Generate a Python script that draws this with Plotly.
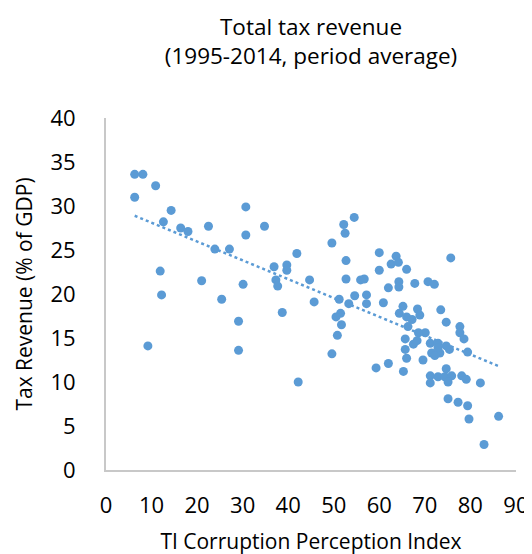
import numpy as np
import plotly.graph_objects as go

# TI Corruption Perception Index (x) and Tax Revenue % of GDP (y)
cpi = [6.3, 8.1, 10.9, 6.3, 14.3, 30.7, 12.6, 16.4, 18.0, 22.5,
       34.8, 30.7, 23.9, 27.1, 41.9, 11.9, 21.0, 30.1, 36.9, 39.7,
       39.7, 37.3, 37.7, 12.2, 25.4, 29.1, 38.7, 9.2, 29.1, 42.2,
       54.5, 52.2, 52.5, 49.6, 60.0, 63.7, 62.6, 64.2, 60.0, 66.0,
       75.7, 52.7, 44.7, 45.7, 52.7, 55.9, 56.7, 64.3, 64.3, 62.0,
       67.8, 70.7, 72.1, 51.2, 54.6, 57.2, 57.2, 53.3, 60.9, 65.2,
       64.4, 68.4, 68.9, 66.0, 67.2, 73.5, 74.7, 77.7, 77.7, 78.6,
       51.5, 50.5, 51.7, 50.8, 66.3, 70.1, 68.6, 65.7, 67.5, 68.3,
       71.2, 72.9, 74.7, 75.4, 71.5, 73.3, 72.2, 72.9, 79.4, 49.6,
       65.7, 66.0, 69.6, 62.0, 59.3, 65.3, 74.7, 71.2, 72.9, 74.4,
       75.9, 75.1, 71.2, 78.1, 79.1, 82.2, 75.1, 77.3, 79.4, 79.7,
       86.2, 83.0]
tax = [33.6, 33.6, 32.3, 31.0, 29.5, 29.9, 28.2, 27.5, 27.1, 27.7,
       27.7, 26.7, 25.1, 25.1, 24.6, 22.6, 21.5, 21.1, 23.1, 23.3,
       22.7, 21.6, 20.9, 19.9, 19.4, 16.9, 17.9, 14.1, 13.6, 10.0,
       28.7, 27.9, 26.9, 25.8, 24.7, 24.3, 23.4, 23.6, 22.7, 22.8,
       24.1, 23.8, 21.6, 19.1, 21.7, 21.6, 21.7, 21.4, 20.8, 20.7,
       21.2, 21.4, 21.1, 19.4, 19.8, 19.9, 18.9, 18.9, 19.0, 18.6,
       17.8, 18.3, 17.6, 17.4, 17.1, 18.2, 16.8, 16.3, 15.6, 14.9,
       17.8, 17.4, 16.5, 15.3, 16.3, 15.6, 15.6, 14.9, 14.3, 14.7,
       14.4, 14.4, 14.1, 13.7, 13.3, 13.3, 13.0, 13.9, 13.4, 13.2,
       13.7, 12.7, 12.5, 12.1, 11.6, 11.2, 11.5, 10.7, 10.6, 10.6,
       10.7, 10.0, 9.9, 10.7, 10.3, 9.9, 8.1, 7.7, 7.3, 5.8,
       6.1, 2.9]

x_ticks = [0, 10, 20, 30, 40, 50, 60, 70, 80, 90]
y_ticks = [0, 5, 10, 15, 20, 25, 30, 35, 40]

blue = "#5B9BD5"
font_family = "Open Sans, Noto Sans, sans-serif"

# Linear trendline (least squares) from the data
slope, intercept = np.polyfit(cpi, tax, 1)
tx = np.array([min(cpi), max(cpi)])
ty = slope * tx + intercept

fig = go.Figure()
fig.add_trace(go.Scatter(
    x=tx, y=ty, mode="lines",
    line=dict(color=blue, width=2.5, dash="dot"),
    hoverinfo="skip", showlegend=False,
))
fig.add_trace(go.Scatter(
    x=cpi, y=tax, mode="markers",
    marker=dict(color=blue, size=9, line=dict(width=0)),
    showlegend=False,
))

fig.update_layout(
    width=532, height=554,
    margin=dict(l=98, r=12, t=110, b=84),
    paper_bgcolor="white", plot_bgcolor="white",
    font=dict(family=font_family, color="#000000", size=21),
    title=dict(
        text="Total tax revenue<br>(1995-2014, period average)",
        x=0.5, xanchor="center", xref="paper",
        y=1 - 27 / 554, yanchor="middle", yref="container",
        font=dict(size=22.5, family=font_family, color="#000000"),
    ),
    xaxis=dict(
        range=[0, 90.02], tickvals=x_ticks, ticktext=[str(v) for v in x_ticks],
        showgrid=False, zeroline=False,
        showline=True, linecolor="#C8C8C8", linewidth=2,
        ticks="outside", ticklen=15, tickcolor="rgba(0,0,0,0)",
        tickfont=dict(size=22), ticklabeloverflow="allow",
        title=dict(text="TI Corruption Perception Index", font=dict(size=21), standoff=16),
    ),
    yaxis=dict(
        range=[0, 40], tickvals=y_ticks, ticktext=[str(v) for v in y_ticks],
        showgrid=False, zeroline=False,
        showline=True, linecolor="#C8C8C8", linewidth=2,
        ticks="outside", ticklen=24, tickcolor="rgba(0,0,0,0)",
        tickfont=dict(size=22),
        title=dict(text="Tax Revenue (% of GDP)", font=dict(size=21), standoff=12),
    ),
)

fig.write_html("out.html")
